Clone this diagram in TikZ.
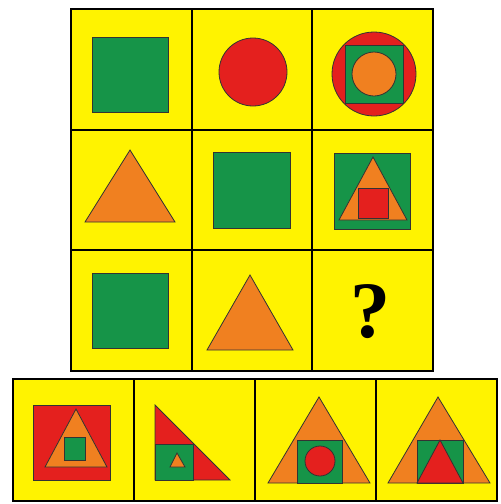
\documentclass[tikz,border=0pt]{standalone}
\usepackage{xcolor}
\usepackage{fontspec}
\usepackage{tikz}
\usetikzlibrary{positioning,calc}

\newfontfamily\qfont{Liberation Serif}
\definecolor{pzyellow}{RGB}{255,243,0}
\definecolor{pzgreen}{RGB}{22,148,72}
\definecolor{pzred}{RGB}{228,32,30}
\definecolor{pzorange}{RGB}{240,128,32}

\begin{document}
\begin{tikzpicture}[x=1pt,y=-1pt,
  cell/.style={fill=pzyellow,draw=black,line width=2pt},
  shp/.style={draw=black!80,line width=0.8pt}]
  \useasboundingbox (0,0) rectangle (501,504);
  \fill[white] (0,0) rectangle (501,504);
  % 3x3 grid
  \foreach \i in {0,1,2}
    \foreach \j in {0,1,2}
      \draw[cell] ({71+120.7*\i},{9+120.7*\j}) rectangle ++(120.7,120.7);
  % answer row
  \foreach \i in {0,...,3}
    \draw[cell] ({13+121*\i},379) rectangle ++(121,122);
  % row 1
  \draw[shp,fill=pzgreen] (92,37) rectangle (168,112);
  \draw[shp,fill=pzred] (253,72) circle (34);
  \draw[shp,fill=pzred] (374,74) circle (42);
  \draw[shp,fill=pzgreen] (345,45) rectangle (403,103);
  \draw[shp,fill=pzorange] (374,74) circle (22);
  % row 2
  \draw[shp,fill=pzorange] (130,150) -- (175,222) -- (85,222) -- cycle;
  \draw[shp,fill=pzgreen] (213,152) rectangle (290,228);
  \draw[shp,fill=pzgreen] (334,153) rectangle (410,229);
  \draw[shp,fill=pzorange] (373,157) -- (407,220) -- (339,220) -- cycle;
  \draw[shp,fill=pzred] (358,188) rectangle (388,218);
  % row 3
  \draw[shp,fill=pzgreen] (92,273) rectangle (168,348);
  \draw[shp,fill=pzorange] (250,275) -- (293,350) -- (207,350) -- cycle;
  \node[font=\qfont\bfseries\fontsize{80}{80}\selectfont] (qmark) at (370,312) {?};
  % answers
  \draw[shp,fill=pzred] (33,405) rectangle (110,480);
  \draw[shp,fill=pzorange] (76,409) -- (107,467) -- (45,467) -- cycle;
  \draw[shp,fill=pzgreen] (64,437) rectangle (85,460);
  \draw[shp,fill=pzred] (155,405) -- (230,480) -- (155,480) -- cycle;
  \draw[shp,fill=pzgreen] (155,444) rectangle (193,480);
  \draw[shp,fill=pzorange] (177,453) -- (185,467) -- (170,467) -- cycle;
  \draw[shp,fill=pzorange] (319,397) -- (370,483) -- (268,483) -- cycle;
  \draw[shp,fill=pzgreen] (297,440) rectangle (342,483);
  \draw[shp,fill=pzred] (320,461) circle (15);
  \draw[shp,fill=pzorange] (438,397) -- (490,483) -- (388,483) -- cycle;
  \draw[shp,fill=pzgreen] (417,440) rectangle (463,483);
  \draw[shp,fill=pzred] (440,440) -- (463,483) -- (417,483) -- cycle;
\end{tikzpicture}
\end{document}
